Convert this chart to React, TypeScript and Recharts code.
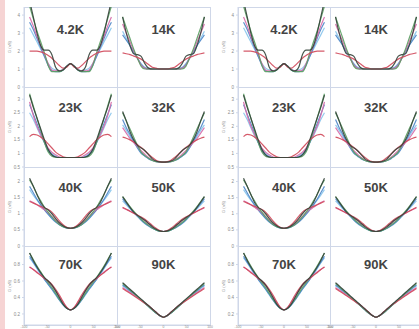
import React from 'react'
import { LineChart, Line, XAxis, YAxis } from 'recharts'

// bias (mV) of one half of each curve; the spectra are symmetric around 0
const X_HALF = [0, 8, 16, 24, 32, 40, 48, 56, 64, 72, 80, 88]
const X_TICKS = [-100, -50, 0, 50, 100]
const TEMPS = ['4.2K', '14K', '23K', '32K', '40K', '50K', '70K', '90K']

// one row per temperature, values at X_HALF
const darkCurves = [
  [1.3, 1.15, 0.95, 0.9, 1.1, 1.8, 2.05, 2.05, 2.3, 3.0, 3.9, 4.8],
  [1.0, 1.0, 1.0, 1.0, 1.05, 1.3, 1.7, 1.8, 1.85, 2.3, 3.0, 3.9],
  [0.85, 0.85, 0.85, 0.85, 0.87, 0.95, 1.15, 1.5, 1.9, 2.3, 2.7, 3.15],
  [0.68, 0.69, 0.72, 0.8, 0.95, 1.1, 1.2, 1.3, 1.5, 1.8, 2.2, 2.55],
  [0.55, 0.57, 0.63, 0.72, 0.85, 1.0, 1.12, 1.2, 1.35, 1.6, 1.85, 2.1],
  [0.45, 0.47, 0.52, 0.6, 0.7, 0.8, 0.88, 0.95, 1.05, 1.2, 1.36, 1.53],
  [0.25, 0.27, 0.32, 0.4, 0.48, 0.55, 0.6, 0.64, 0.7, 0.77, 0.85, 0.94],
  [0.16, 0.18, 0.22, 0.26, 0.3, 0.34, 0.38, 0.42, 0.46, 0.5, 0.54, 0.58],
]
const greenCurves = [
  [1.3, 1.15, 0.95, 0.85, 0.85, 0.85, 1.2, 1.9, 2.5, 3.1, 3.8, 4.5],
  [1.0, 1.0, 1.0, 1.0, 1.0, 1.0, 1.15, 1.6, 2.1, 2.7, 3.3, 3.9],
  [0.85, 0.85, 0.85, 0.85, 0.86, 0.9, 1.05, 1.4, 1.85, 2.3, 2.75, 3.2],
  [0.68, 0.69, 0.7, 0.74, 0.82, 0.92, 1.05, 1.3, 1.6, 1.9, 2.2, 2.5],
  [0.55, 0.56, 0.6, 0.67, 0.77, 0.9, 1.05, 1.2, 1.4, 1.6, 1.85, 2.05],
  [0.45, 0.46, 0.5, 0.56, 0.64, 0.73, 0.83, 0.95, 1.08, 1.22, 1.38, 1.53],
  [0.25, 0.27, 0.32, 0.38, 0.45, 0.52, 0.58, 0.64, 0.71, 0.78, 0.86, 0.94],
  [0.16, 0.18, 0.21, 0.25, 0.29, 0.33, 0.37, 0.41, 0.45, 0.49, 0.53, 0.57],
]
const blueCurves = [
  [1.3, 1.15, 0.95, 0.85, 0.85, 0.9, 1.2, 1.7, 2.2, 2.7, 3.2, 3.6],
  [1.0, 1.0, 1.0, 1.0, 1.0, 1.05, 1.25, 1.6, 1.95, 2.3, 2.6, 2.9],
  [0.85, 0.85, 0.85, 0.85, 0.87, 0.95, 1.1, 1.4, 1.75, 2.1, 2.45, 2.8],
  [0.68, 0.69, 0.7, 0.74, 0.8, 0.9, 1.0, 1.2, 1.45, 1.7, 1.95, 2.25],
  [0.55, 0.56, 0.6, 0.66, 0.74, 0.85, 0.98, 1.12, 1.28, 1.45, 1.65, 1.85],
  [0.45, 0.46, 0.5, 0.55, 0.62, 0.7, 0.8, 0.92, 1.05, 1.18, 1.32, 1.47],
  [0.25, 0.27, 0.31, 0.37, 0.44, 0.5, 0.56, 0.62, 0.69, 0.76, 0.83, 0.9],
  [0.16, 0.18, 0.21, 0.25, 0.29, 0.33, 0.37, 0.41, 0.45, 0.48, 0.52, 0.55],
]
const lightBlueCurves = [
  [1.3, 1.15, 1.0, 0.9, 0.95, 1.05, 1.3, 1.7, 2.1, 2.5, 2.9, 3.3],
  [1.0, 1.0, 1.0, 1.0, 1.05, 1.1, 1.3, 1.6, 1.9, 2.3, 2.7, 3.1],
  [0.85, 0.85, 0.85, 0.86, 0.9, 1.0, 1.15, 1.4, 1.65, 1.95, 2.25, 2.5],
  [0.68, 0.69, 0.71, 0.75, 0.82, 0.92, 1.05, 1.22, 1.42, 1.62, 1.85, 2.05],
  [0.55, 0.56, 0.6, 0.67, 0.76, 0.87, 1.0, 1.13, 1.27, 1.42, 1.58, 1.75],
  [0.45, 0.46, 0.5, 0.56, 0.63, 0.72, 0.82, 0.93, 1.04, 1.15, 1.28, 1.4],
  [0.25, 0.27, 0.31, 0.37, 0.43, 0.5, 0.56, 0.62, 0.68, 0.75, 0.82, 0.88],
  [0.16, 0.18, 0.21, 0.25, 0.29, 0.33, 0.37, 0.4, 0.44, 0.47, 0.51, 0.54],
]
const pinkCurves = [
  [1.3, 1.15, 0.97, 0.9, 0.9, 0.95, 1.3, 1.8, 2.3, 2.8, 3.4, 3.9],
  [1.0, 1.0, 1.0, 1.0, 1.0, 1.05, 1.2, 1.6, 2.0, 2.5, 3.0, 3.5],
  [0.85, 0.85, 0.85, 0.87, 0.95, 1.05, 1.2, 1.45, 1.7, 2.0, 2.4, 2.9],
  [0.68, 0.69, 0.71, 0.76, 0.85, 0.97, 1.1, 1.25, 1.4, 1.55, 1.75, 1.95],
  [0.55, 0.57, 0.62, 0.7, 0.8, 0.92, 1.03, 1.12, 1.2, 1.28, 1.35, 1.4],
  [0.45, 0.47, 0.52, 0.59, 0.68, 0.78, 0.87, 0.95, 1.02, 1.08, 1.13, 1.18],
  [0.25, 0.28, 0.34, 0.41, 0.48, 0.54, 0.59, 0.63, 0.67, 0.71, 0.74, 0.77],
  [0.16, 0.18, 0.22, 0.26, 0.3, 0.33, 0.37, 0.4, 0.43, 0.46, 0.49, 0.52],
]
const redCurves = [
  [1.3, 1.1, 1.05, 1.2, 1.4, 1.6, 1.75, 1.88, 1.95, 2.0, 2.0, 2.0],
  [1.0, 1.0, 1.05, 1.1, 1.25, 1.4, 1.55, 1.65, 1.72, 1.8, 1.85, 1.9],
  [0.85, 0.85, 0.88, 0.95, 1.05, 1.2, 1.35, 1.5, 1.6, 1.68, 1.7, 1.62],
  [0.68, 0.7, 0.75, 0.85, 0.97, 1.1, 1.22, 1.32, 1.42, 1.5, 1.56, 1.6],
  [0.55, 0.58, 0.66, 0.78, 0.92, 1.05, 1.13, 1.18, 1.23, 1.28, 1.33, 1.38],
  [0.45, 0.48, 0.55, 0.64, 0.74, 0.83, 0.9, 0.96, 1.02, 1.08, 1.14, 1.2],
  [0.25, 0.28, 0.35, 0.43, 0.5, 0.56, 0.6, 0.63, 0.67, 0.7, 0.74, 0.77],
  [0.16, 0.18, 0.22, 0.26, 0.3, 0.33, 0.36, 0.39, 0.42, 0.45, 0.48, 0.51],
]

const SERIES = [
  { key: 'lb', color: '#86c4ec', values: lightBlueCurves },
  { key: 'bl', color: '#4a84c6', values: blueCurves },
  { key: 'pk', color: '#d66aa8', values: pinkCurves },
  { key: 'gr', color: '#5a9e62', values: greenCurves },
  { key: 'rd', color: '#d0485a', values: redCurves },
  { key: 'dk', color: '#34423a', values: darkCurves },
]

// y scale of each row of panels
const ROW_DOMAINS: [number, number][] = [[0, 4.45], [0.5, 3.45], [0, 2.45], [0.066, 1.025]]
const ROW_TICKS = [[0, 1, 2, 3, 4], [0.5, 1, 1.5, 2, 2.5, 3], [0, 0.5, 1, 1.5, 2], [0.2, 0.4, 0.6, 0.8]]

const ROW_TOP = [7, 87, 167, 246]
const ROW_H = [80, 80, 79, 79]
const TITLE_DY = [23, 21, 21, 19]
const AXIS_W = 16
const XAXIS_H = 4
const PAD = 4
const HPAD = 6
const FRAME = '#cfd7e8'

const buildRows = (i: number) => {
  const xs = [...X_HALF.slice(1).map((x) => -x).reverse(), ...X_HALF]
  return xs.map((x) => {
    const j = X_HALF.indexOf(Math.abs(x))
    const row: Record<string, number> = { x }
    SERIES.forEach((s) => {
      row[s.key] = s.values[i][j]
    })
    return row
  })
}

const Cell = ({ left, colW, r, c }: { left: number; colW: number; r: number; c: number }) => {
  const i = r * 2 + c
  const plotLeft = left + c * colW
  const showY = c === 0
  const showX = r === 3
  const leftPad = showY ? 0 : HPAD
  const chartLeft = plotLeft - (showY ? AXIS_W : HPAD)
  const width = colW + (showY ? AXIS_W : HPAD) + HPAD
  const bottomPad = showX ? 0 : PAD
  const height = ROW_H[r] + PAD + bottomPad + (showX ? XAXIS_H : 0)
  const tickStyle = { fontSize: 4.5, fill: '#8a8a8a', fontFamily: 'Liberation Sans' }

  return (
    <>
      <div
        style={{
          position: 'absolute',
          left: plotLeft,
          top: ROW_TOP[r],
          width: colW + 1,
          height: ROW_H[r] + 1,
          border: `1px solid ${FRAME}`,
          boxSizing: 'border-box',
        }}
      />
      <div style={{ position: 'absolute', left: chartLeft, top: ROW_TOP[r] - PAD }}>
        <LineChart
          width={width}
          height={height}
          data={buildRows(i)}
          margin={{ top: PAD, right: HPAD, bottom: bottomPad, left: leftPad }}
        >
          <XAxis
            type="number"
            dataKey="x"
            domain={[-100, 100]}
            ticks={X_TICKS}
            hide={!showX}
            height={XAXIS_H}
            tick={{ ...tickStyle, fontSize: 3.4 }}
            tickSize={0.5}
            tickMargin={0}
            axisLine={{ stroke: FRAME }}
            tickLine={{ stroke: FRAME }}
            interval={0}
          />
          <YAxis
            type="number"
            domain={ROW_DOMAINS[r]}
            ticks={ROW_TICKS[r]}
            allowDataOverflow
            hide={!showY}
            width={AXIS_W}
            tick={tickStyle}
            tickSize={2}
            axisLine={{ stroke: FRAME }}
            tickLine={{ stroke: FRAME }}
            interval={0}
          />
          {SERIES.map((s) => (
            <Line
              key={s.key}
              type="monotone"
              dataKey={s.key}
              stroke={s.color}
              strokeWidth={1.2}
              strokeOpacity={0.9}
              dot={false}
              isAnimationActive={false}
            />
          ))}
        </LineChart>
      </div>
      <div
        style={{
          position: 'absolute',
          left: plotLeft,
          width: colW,
          top: ROW_TOP[r] + TITLE_DY[r] - 8,
          height: 16,
          lineHeight: '16px',
          textAlign: 'center',
          fontFamily: 'Liberation Sans, Arial, sans-serif',
          fontSize: 13,
          fontWeight: 'bold',
          color: '#444444',
        }}
      >
        {TEMPS[i]}
      </div>
      {showY && (
        <div
          style={{
            position: 'absolute',
            left: plotLeft - 14 - 20,
            top: ROW_TOP[r] + ROW_H[r] / 2 - 4,
            width: 40,
            height: 8,
            lineHeight: '8px',
            textAlign: 'center',
            fontFamily: 'Liberation Sans, Arial, sans-serif',
            fontSize: 4,
            color: '#8a8a8a',
            transform: 'rotate(-90deg)',
          }}
        >
          G (nS)
        </div>
      )}
    </>
  )
}

const Panel = ({ left, colW }: { left: number; colW: number }) => (
  <>
    {[0, 1, 2, 3].map((r) =>
      [0, 1].map((c) => <Cell key={`${r}-${c}`} left={left} colW={colW} r={r} c={c} />)
    )}
  </>
)

export default function App() {
  return (
    <div
      style={{
        position: 'absolute',
        left: 0,
        top: 0,
        width: 419,
        height: 329,
        overflow: 'hidden',
        background: '#ffffff',
      }}
    >
      <div style={{ position: 'absolute', left: 0, top: 0, width: 5, height: 329, background: '#f6d4d4' }} />
      <Panel left={24} colW={93} />
      <Panel left={238} colW={92} />
    </div>
  )
}
